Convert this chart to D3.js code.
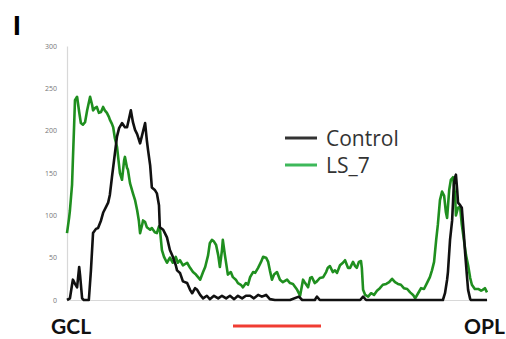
<!DOCTYPE html>
<html>
<head>
<meta charset="utf-8">
<script src="https://cdn.jsdelivr.net/npm/d3@7"></script>
<style>
  html, body { margin: 0; padding: 0; background: #fff; }
  svg { display: block; }
</style>
</head>
<body>
<svg id="chart" width="506" height="339"></svg>
<script>
// ---- data (x = relative depth from GCL (0) to OPL (100), y = intensity) ----
const controlX = [0,0.7,1.2,1.4,1.9,2.4,2.9,3.1,3.6,4.0,5.2,5.7,6.2,6.9,7.4,8.1,8.6,9.3,9.8,10.2,10.7,11.2,11.9,12.4,13.1,13.8,14.3,14.8,15.2,15.7,16.2,16.7,17.4,17.9,18.6,19.0,19.3,19.8,20.2,20.9,21.4,21.9,22.1,22.9,23.3,23.8,24.5,25.2,25.9,26.2,26.9,27.6,28.6,29.3,29.8,30.5,31.0,31.7,32.4,33.3,34.0,35.0,36.0,36.9,37.9,38.8,39.8,40.7,41.7,42.6,43.6,44.5,45.5,46.4,47.4,48.3,49.5,53.1,55.2,56.0,59.0,59.5,60.2,69.8,70.5,71.2,89.5,90.0,90.5,90.7,91.2,91.7,92.1,92.4,92.6,92.9,93.1,93.6,94.0,94.5,94.8,95.2,95.5,96.0,96.2,100];
const controlY = [0,2,18,24,19,15,39,30,2,0,0,35,79,84,85,94,103,110,115,124,145,165,193,203,209,204,204,215,224,210,201,196,185,195,209,189,177,159,133,130,126,112,86,83,79,74,59,51,41,35,32,22,20,12,8,14,12,6,2,5,1,5,2,5,2,5,1,5,2,5,5,2,6,4,6,1,0,0,4,0,0,4,0,0,4,0,0,8,24,33,71,94,136,145,148,130,115,112,109,77,55,30,12,1,0,0];

const ls7X = [0,0.5,0.7,1.2,1.4,1.7,1.9,2.4,2.9,3.3,3.8,4.3,4.8,5.5,6.0,6.2,6.7,7.1,7.6,8.1,8.6,9.0,9.5,10.0,10.2,10.7,11.0,11.4,11.9,12.4,12.6,13.1,13.6,13.8,14.3,14.5,15.0,15.7,16.2,16.7,17.1,17.4,17.9,18.1,18.6,19.0,19.8,20.2,20.9,21.4,21.9,22.1,22.6,23.1,23.8,24.5,25.2,25.9,26.4,26.9,27.6,28.6,29.3,30.0,30.7,31.7,32.4,32.9,33.6,34.0,34.5,35.0,35.5,36.0,36.4,36.9,37.1,37.6,38.3,39.0,39.5,40.2,40.7,41.4,41.9,42.6,43.1,43.6,44.3,44.8,45.5,46.2,46.7,47.4,47.9,48.3,48.8,49.3,50.0,50.7,51.4,52.4,53.1,53.8,54.8,55.5,56.2,56.7,57.4,57.9,58.3,59.0,59.5,60.2,61.0,61.7,62.1,62.6,63.3,63.8,64.3,65.0,65.7,66.2,66.9,67.4,68.1,68.6,69.0,69.5,70.0,70.2,70.5,71.0,71.7,72.4,73.1,73.8,74.5,75.2,76.0,76.7,77.4,78.1,78.8,79.5,80.2,81.0,81.7,82.4,82.9,83.6,84.3,85.0,85.7,86.4,86.9,87.4,87.9,88.3,88.8,89.3,89.8,90.2,90.5,91.0,91.4,91.9,92.4,92.6,93.1,93.6,94.0,94.5,95.0,95.5,96.0,96.4,97.1,97.9,98.6,99.0,99.5,100];
const ls7Y = [79,97,106,136,165,207,236,240,222,209,207,210,224,240,230,224,227,228,221,222,228,224,221,216,213,208,204,191,181,159,150,142,165,169,156,154,138,126,118,106,94,79,89,94,92,86,83,85,80,79,87,85,59,51,44,50,44,51,44,47,41,44,38,33,30,24,33,39,53,67,71,69,65,53,39,59,71,53,30,33,27,24,20,18,15,20,18,27,33,32,38,45,51,50,45,35,24,30,33,24,21,24,20,19,12,5,24,20,15,26,27,20,22,26,27,33,38,40,33,35,32,41,44,47,38,38,45,40,38,45,46,38,12,6,4,8,6,11,14,18,19,21,25,21,19,18,14,13,9,6,2,8,14,13,20,27,35,45,71,89,118,128,123,104,97,130,142,145,124,100,109,110,89,71,53,41,26,18,13,13,11,12,14,9];

const yTicks = [0, 50, 100, 150, 200, 250, 300];
const seriesNames = ["Control", "LS_7"];
const seriesColors = ["#111111", "#1f8f1f"];
const legendColors = ["#333333", "#3db85a"];
const panelLabel = "I";
const leftLabel = "GCL";
const rightLabel = "OPL";

// ---- drawing ----
const svg = d3.select("#chart");
const margin = { left: 67, right: 19, top: 46, bottom: 39 };
const W = 506, H = 339;

const x = d3.scaleLinear().domain([0, 100]).range([margin.left, W - margin.right]);
const y = d3.scaleLinear().domain([0, 300]).range([H - margin.bottom, margin.top]);

// panel label
svg.append("text").attr("x", 13).attr("y", 35)
  .attr("font-family", "Liberation Sans, Arial, sans-serif")
  .attr("font-weight", "bold").attr("font-size", 28).attr("fill", "#000")
  .text(panelLabel);

// axes
const yAxis = d3.axisLeft(y).tickValues(yTicks).tickSize(0).tickPadding(10);
const gy = svg.append("g").attr("transform", `translate(${margin.left},0)`).call(yAxis);
gy.select(".domain").attr("stroke", "#d8d8d8").attr("stroke-width", 1.2);
gy.selectAll("text").attr("fill", "#777").attr("font-size", 7)
  .attr("font-family", "Open Sans, Liberation Sans, sans-serif");

const xAxis = d3.axisBottom(x).tickValues([]).tickSize(0);
const gx = svg.append("g").attr("transform", `translate(0,${y(0)})`).call(xAxis);
gx.select(".domain").attr("stroke", "#d8d8d8").attr("stroke-width", 1.2);

// lines
const line = d3.line().x(d => x(d[0])).y(d => y(d[1])).curve(d3.curveLinear);
const controlData = controlX.map((v, i) => [v, controlY[i]]);
const ls7Data = ls7X.map((v, i) => [v, ls7Y[i]]);

svg.append("path").datum(ls7Data).attr("d", line)
  .attr("fill", "none").attr("stroke", seriesColors[1]).attr("stroke-width", 2.6)
  .attr("stroke-linejoin", "round");
svg.append("path").datum(controlData).attr("d", line)
  .attr("fill", "none").attr("stroke", seriesColors[0]).attr("stroke-width", 2.6)
  .attr("stroke-linejoin", "round");

// legend
const legend = svg.append("g");
seriesNames.forEach((name, i) => {
  const ly = 138 + i * 27;
  legend.append("line").attr("x1", 285).attr("x2", 317).attr("y1", ly).attr("y2", ly)
    .attr("stroke", legendColors[i]).attr("stroke-width", 3);
  legend.append("text").attr("x", 326).attr("y", ly + 8)
    .attr("font-family", "Open Sans, Liberation Sans, sans-serif")
    .attr("font-size", 21).attr("fill", "#333").text(name);
});

// bottom labels
svg.append("text").attr("x", 51).attr("y", 334)
  .attr("font-family", "Lato, Open Sans, sans-serif").attr("font-weight", "bold")
  .attr("font-size", 21).attr("fill", "#111").text(leftLabel);
svg.append("text").attr("x", 505).attr("y", 334).attr("text-anchor", "end")
  .attr("font-family", "Lato, Open Sans, sans-serif").attr("font-weight", "bold")
  .attr("font-size", 21).attr("fill", "#111").text(rightLabel);

// red scale bar
svg.append("line").attr("x1", 233).attr("x2", 321).attr("y1", 326).attr("y2", 326)
  .attr("stroke", "#f03c32").attr("stroke-width", 3);
</script>
</body>
</html>
